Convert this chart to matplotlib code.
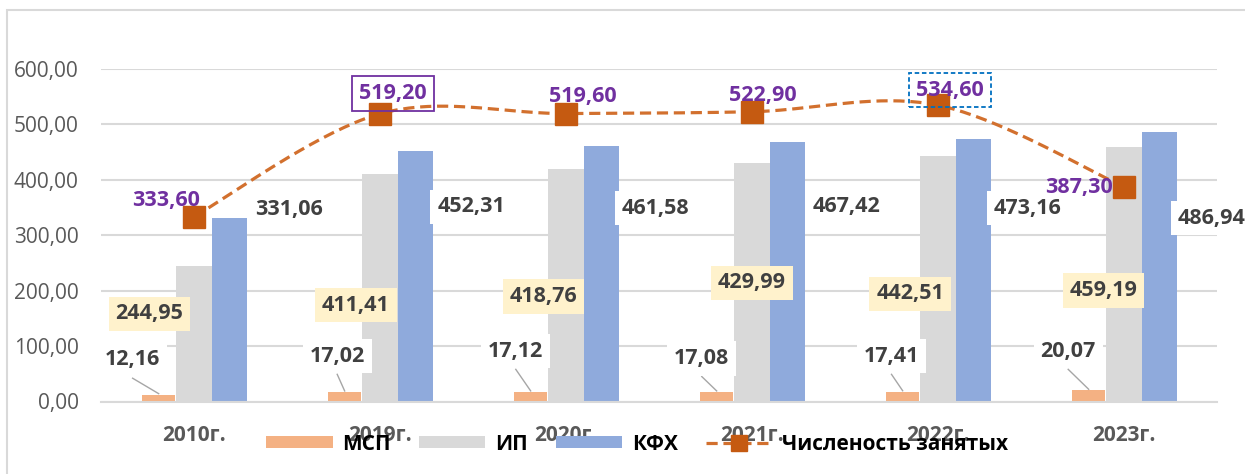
import numpy as np
import matplotlib
matplotlib.use('Agg')
import matplotlib.pyplot as plt
from matplotlib.lines import Line2D
from matplotlib.patches import Rectangle

plt.rcParams['font.family'] = ['Open Sans', 'DejaVu Sans']

years = ['2010г.', '2019г.', '2020г.', '2021г.', '2022г.', '2023г.']
msp = [12.16, 17.02, 17.12, 17.08, 17.41, 20.07]
ip = [244.95, 411.41, 418.76, 429.99, 442.51, 459.19]
kfh = [331.06, 452.31, 461.58, 467.42, 473.16, 486.94]
workers = [333.60, 519.20, 519.60, 522.90, 534.60, 387.30]

# label centres: (x offset from category, y in data units)
msp_lab = [(-0.33, 75), (-0.23, 82), (-0.27, 91), (-0.27, 78), (-0.25, 82), (-0.30, 91)]
ip_lab = [(-0.24, 158), (-0.13, 174), (-0.12, 190), (0.0, 214), (-0.15, 194), (-0.11, 201)]
kfh_lab = [(0.51, 347), (0.49, 351), (0.48, 349), (0.51, 351), (0.48, 349), (0.47, 331)]
wrk_lab = [(-0.15, 363), (0.07, 556), (0.09, 551), (0.06, 553), (0.065, 562), (-0.24, 387)]

c_msp = '#F4B183'
c_ip = '#D9D9D9'
c_kfh = '#8FAADC'
c_line = '#D2702E'
c_mark = '#C55A11'
c_purple = '#7030A0'
c_text = '#404040'
c_grid = '#D9D9D9'


def fmt(v):
    return f'{v:.2f}'.replace('.', ',')


def smooth(xs, ys, n=40):
    # excel-like smoothed line (bezier through points)
    pts = np.column_stack([xs, ys]).astype(float)
    ext = np.vstack([pts[0], pts, pts[-1]])
    out = []
    t = np.linspace(0, 1, n)[:, None]
    for i in range(len(pts) - 1):
        p0, p1, p2, p3 = ext[i], ext[i + 1], ext[i + 2], ext[i + 3]
        c1 = p1 + (p2 - p0) / 6
        c2 = p2 - (p3 - p1) / 6
        seg = (1 - t)**3 * p1 + 3 * (1 - t)**2 * t * c1 + 3 * (1 - t) * t**2 * c2 + t**3 * p2
        out.append(seg if i == 0 else seg[1:])
    return np.vstack(out)


fig = plt.figure(figsize=(12.45, 4.74), dpi=100)
fig.patches.append(Rectangle((7 / 1245, -0.05), 1.1, 1 - 10 / 474 + 0.05, transform=fig.transFigure,
                             fill=False, edgecolor=c_grid, lw=1.5))
ax = fig.add_axes([101 / 1245, 1 - 401.5 / 474, 1116 / 1245, 332.5 / 474])

x = np.arange(len(years))
w = 0.19
b1 = ax.bar(x - w, msp, w * 0.95, color=c_msp, label='МСП', zorder=2)
b2 = ax.bar(x, ip, w, color=c_ip, label='ИП', zorder=2)
b3 = ax.bar(x + w, kfh, w, color=c_kfh, label='КФХ', zorder=2)

curve = smooth(x, workers)
ax.plot(curve[:, 0], curve[:, 1], color=c_line, lw=2.3, ls=(0, (3.5, 1.8)), zorder=4, clip_on=False)
ax.plot(x, workers, ls='none', marker='s', ms=16.5, color=c_mark, zorder=5, clip_on=False)

ax.set_xlim(-0.5, 5.5)
ax.set_ylim(0, 600)
ax.set_yticks(np.arange(0, 601, 100))
ax.set_yticklabels([fmt(v) for v in np.arange(0, 601, 100)])
ax.set_xticks(x)
ax.set_xticklabels(years)
ax.tick_params(axis='y', length=0, pad=16, labelsize=15, labelcolor='#595959')
ax.tick_params(axis='x', length=0, pad=17, labelsize=15)
for t in ax.get_xticklabels():
    t.set_fontweight('bold')
    t.set_color('#595959')
ax.yaxis.grid(True, color=c_grid, lw=1.5)
ax.set_axisbelow(True)
for s in ['top', 'right', 'left']:
    ax.spines[s].set_visible(False)
ax.spines['bottom'].set_color(c_grid)
ax.spines['bottom'].set_linewidth(1.5)

fs = 15.5
box = 'square,pad=0.32'
for i in range(len(years)):
    # МСП
    lx, ly = x[i] + msp_lab[i][0], msp_lab[i][1]
    ax.plot([lx, x[i] - w], [ly - 33, msp[i] + 2], color='#A6A6A6', lw=1, zorder=6)
    ax.text(lx, ly, fmt(msp[i]), ha='center', va='center', fontsize=fs, fontweight='bold', color=c_text,
            bbox=dict(boxstyle=box, fc='white', ec='none'), zorder=7)
    # ИП
    ax.text(x[i] + ip_lab[i][0], ip_lab[i][1], fmt(ip[i]), ha='center', va='center', fontsize=fs,
            fontweight='bold', color=c_text, bbox=dict(boxstyle=box, fc='#FFF2CC', ec='none'), zorder=7)
    # КФХ
    ax.text(x[i] + kfh_lab[i][0], kfh_lab[i][1], fmt(kfh[i]), ha='center', va='center', fontsize=fs,
            fontweight='bold', color=c_text, bbox=dict(boxstyle=box, fc='white', ec='none'), zorder=7,
            clip_on=False)
    # численость
    bb = None
    if i == 1:
        bb = dict(boxstyle=box, fc='none', ec=c_purple, lw=1.3)
    elif i == 4:
        bb = dict(boxstyle=box, fc='none', ec='#0070C0', lw=1.3, ls=(0, (2.5, 1.5)))
    ax.text(x[i] + wrk_lab[i][0], wrk_lab[i][1], fmt(workers[i]), ha='center', va='center', fontsize=fs,
            fontweight='bold', color=c_purple, bbox=bb, zorder=8, clip_on=False)

line_h = Line2D([], [], color=c_line, lw=2.3, ls=(0, (3.5, 1.8)), marker='s', ms=12,
                markerfacecolor=c_mark, markeredgecolor=c_mark)
leg = fig.legend([b1, b2, b3, line_h], ['МСП', 'ИП', 'КФХ', 'Численость занятых'],
                 loc='center', bbox_to_anchor=(637 / 1245, 1 - 444 / 474), ncol=4, frameon=False,
                 handlelength=3.2, handleheight=0.55, handletextpad=0.45, columnspacing=1.35,
                 prop={'size': 15, 'weight': 'bold'})
for t in leg.get_texts():
    t.set_color('black')

fig.savefig('out.png', dpi=100)
